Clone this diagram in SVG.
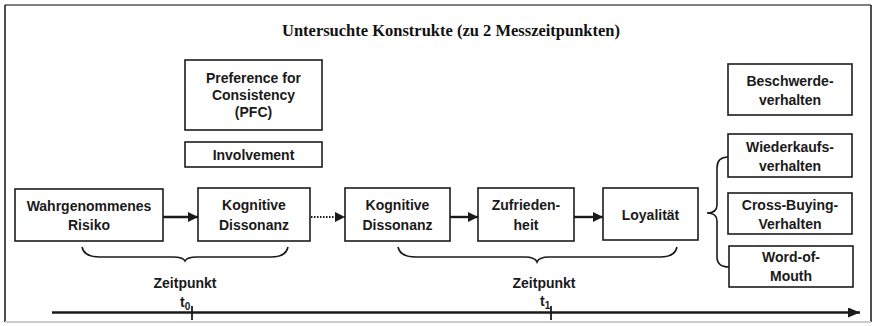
<svg xmlns="http://www.w3.org/2000/svg" width="875" height="326" viewBox="0 0 875 326">
  <defs>
    <style>
      .box { fill: #ffffff; stroke: #1c1c1c; stroke-width: 1.6; }
      .lbl { font-family: "Liberation Sans", Arial, sans-serif; font-weight: bold; font-size: 14px; fill: #1a1a1a; text-anchor: middle; }
      .title { font-family: "Liberation Serif", "Times New Roman", serif; font-weight: bold; font-size: 16px; fill: #111111; }
      .edge { stroke: #1a1a1a; stroke-width: 2.4; fill: none; }
      .dotted { stroke: #1a1a1a; stroke-width: 1.8; fill: none; stroke-dasharray: 1.5 1.5; }
      .brace { stroke: #1a1a1a; stroke-width: 1.6; fill: none; }
      .tick { stroke: #1a1a1a; stroke-width: 1.8; }
    </style>
    <marker id="head" viewBox="0 0 10 10" refX="10" refY="5" markerWidth="10" markerHeight="10" markerUnits="userSpaceOnUse" orient="auto">
      <path d="M0,0 L10,5 L0,10 Z" fill="#1a1a1a"/>
    </marker>
    <marker id="axisHead" viewBox="0 0 12 10" refX="12" refY="5" markerWidth="12" markerHeight="10" markerUnits="userSpaceOnUse" orient="auto">
      <path d="M0,0 L12,5 L0,10 Z" fill="#1a1a1a"/>
    </marker>
  </defs>

  <rect x="0" y="0" width="875" height="326" fill="#ffffff"/>

  <!-- outer frame -->
  <g id="frame">
    <line x1="5" y1="5" x2="871" y2="5" stroke="#555555" stroke-width="1.5"/>
    <line x1="5" y1="5" x2="5" y2="322" stroke="#222222" stroke-width="1.6"/>
    <line x1="871" y1="5" x2="871" y2="322" stroke="#222222" stroke-width="1.6"/>
    <line x1="5" y1="322" x2="871" y2="322" stroke="#cccccc" stroke-width="2"/>
  </g>

  <text class="title" x="282" y="36" textLength="338" lengthAdjust="spacingAndGlyphs">Untersuchte Konstrukte (zu 2 Messzeitpunkten)</text>

  <!-- moderators -->
  <g id="pfc">
    <rect class="box" x="185" y="60" width="137" height="70"/>
    <text class="lbl" x="253.5" y="83">Preference for</text>
    <text class="lbl" x="253.5" y="100">Consistency</text>
    <text class="lbl" x="253.5" y="117">(PFC)</text>
  </g>
  <g id="involvement">
    <rect class="box" x="185" y="142" width="137" height="25"/>
    <text class="lbl" x="253.5" y="159.5">Involvement</text>
  </g>

  <!-- main chain -->
  <g id="risiko">
    <rect class="box" x="15" y="189" width="148" height="52"/>
    <text class="lbl" x="89" y="210.5">Wahrgenommenes</text>
    <text class="lbl" x="89" y="229.5">Risiko</text>
  </g>
  <g id="dissonanz1">
    <rect class="box" x="198" y="188" width="112" height="53"/>
    <text class="lbl" x="254" y="210">Kognitive</text>
    <text class="lbl" x="254" y="229.5">Dissonanz</text>
  </g>
  <g id="dissonanz2">
    <rect class="box" x="345" y="188" width="105" height="53"/>
    <text class="lbl" x="397.5" y="210">Kognitive</text>
    <text class="lbl" x="397.5" y="229.5">Dissonanz</text>
  </g>
  <g id="zufriedenheit">
    <rect class="box" x="478" y="188" width="96" height="53"/>
    <text class="lbl" x="526" y="210">Zufrieden-</text>
    <text class="lbl" x="526" y="229.5">heit</text>
  </g>
  <g id="loyalitaet">
    <rect class="box" x="603" y="188" width="95" height="52"/>
    <text class="lbl" x="650.5" y="220">Loyalität</text>
  </g>

  <!-- outcomes -->
  <g id="beschwerde">
    <rect class="box" x="728" y="64" width="124" height="51"/>
    <text class="lbl" x="790" y="86">Beschwerde-</text>
    <text class="lbl" x="790" y="105">verhalten</text>
  </g>
  <g id="wiederkauf">
    <rect class="box" x="728" y="134" width="124" height="43"/>
    <text class="lbl" x="790" y="152">Wiederkaufs-</text>
    <text class="lbl" x="790" y="171">verhalten</text>
  </g>
  <g id="crossbuying">
    <rect class="box" x="728" y="193" width="124" height="41"/>
    <text class="lbl" x="790" y="209.5">Cross-Buying-</text>
    <text class="lbl" x="790" y="228.5">Verhalten</text>
  </g>
  <g id="wom">
    <rect class="box" x="729" y="246" width="124" height="41"/>
    <text class="lbl" x="791" y="262">Word-of-</text>
    <text class="lbl" x="791" y="281">Mouth</text>
  </g>

  <!-- connectors -->
  <g id="connectors">
    <line class="edge" x1="163" y1="217" x2="198" y2="217" marker-end="url(#head)"/>
    <line class="dotted" x1="311" y1="217" x2="345" y2="217" marker-end="url(#head)"/>
    <line class="edge" x1="450" y1="217" x2="478" y2="217" marker-end="url(#head)"/>
    <line class="edge" x1="574" y1="217" x2="603" y2="217" marker-end="url(#head)"/>
    <!-- braces -->
    <path class="brace" d="M82,247 Q84,257 100,257 L173,257 Q183,257 185,261 Q187,257 197,257 L271,257 Q286,257 288,247"/>
    <path class="brace" d="M398,247 Q400,257 416,257 L525,257 Q535,257 537,262 Q539,257 549,257 L660,257 Q675,257 677,247"/>
    <path class="brace" d="M728,157 Q717,157 717,168 L717,205 Q717,213 707,213 Q717,213 717,221 L717,257 Q717,267 729,267"/>
  </g>

  <!-- time axis -->
  <g id="axis">
    <line class="edge" x1="52" y1="312.5" x2="860" y2="312.5" stroke-width="2" marker-end="url(#axisHead)"/>
    <line class="tick" x1="192" y1="306" x2="192" y2="320"/>
    <line class="tick" x1="551" y1="306" x2="551" y2="320"/>
    <text class="lbl" x="185" y="288">Zeitpunkt</text>
    <text class="lbl" x="544" y="288">Zeitpunkt</text>
    <text class="lbl" x="185" y="307" style="text-anchor:start" transform="translate(-5,0)">t<tspan font-size="10" dy="3">0</tspan></text>
    <text class="lbl" x="540" y="306" style="text-anchor:start">t<tspan font-size="10" dy="3">1</tspan></text>
  </g>
</svg>
